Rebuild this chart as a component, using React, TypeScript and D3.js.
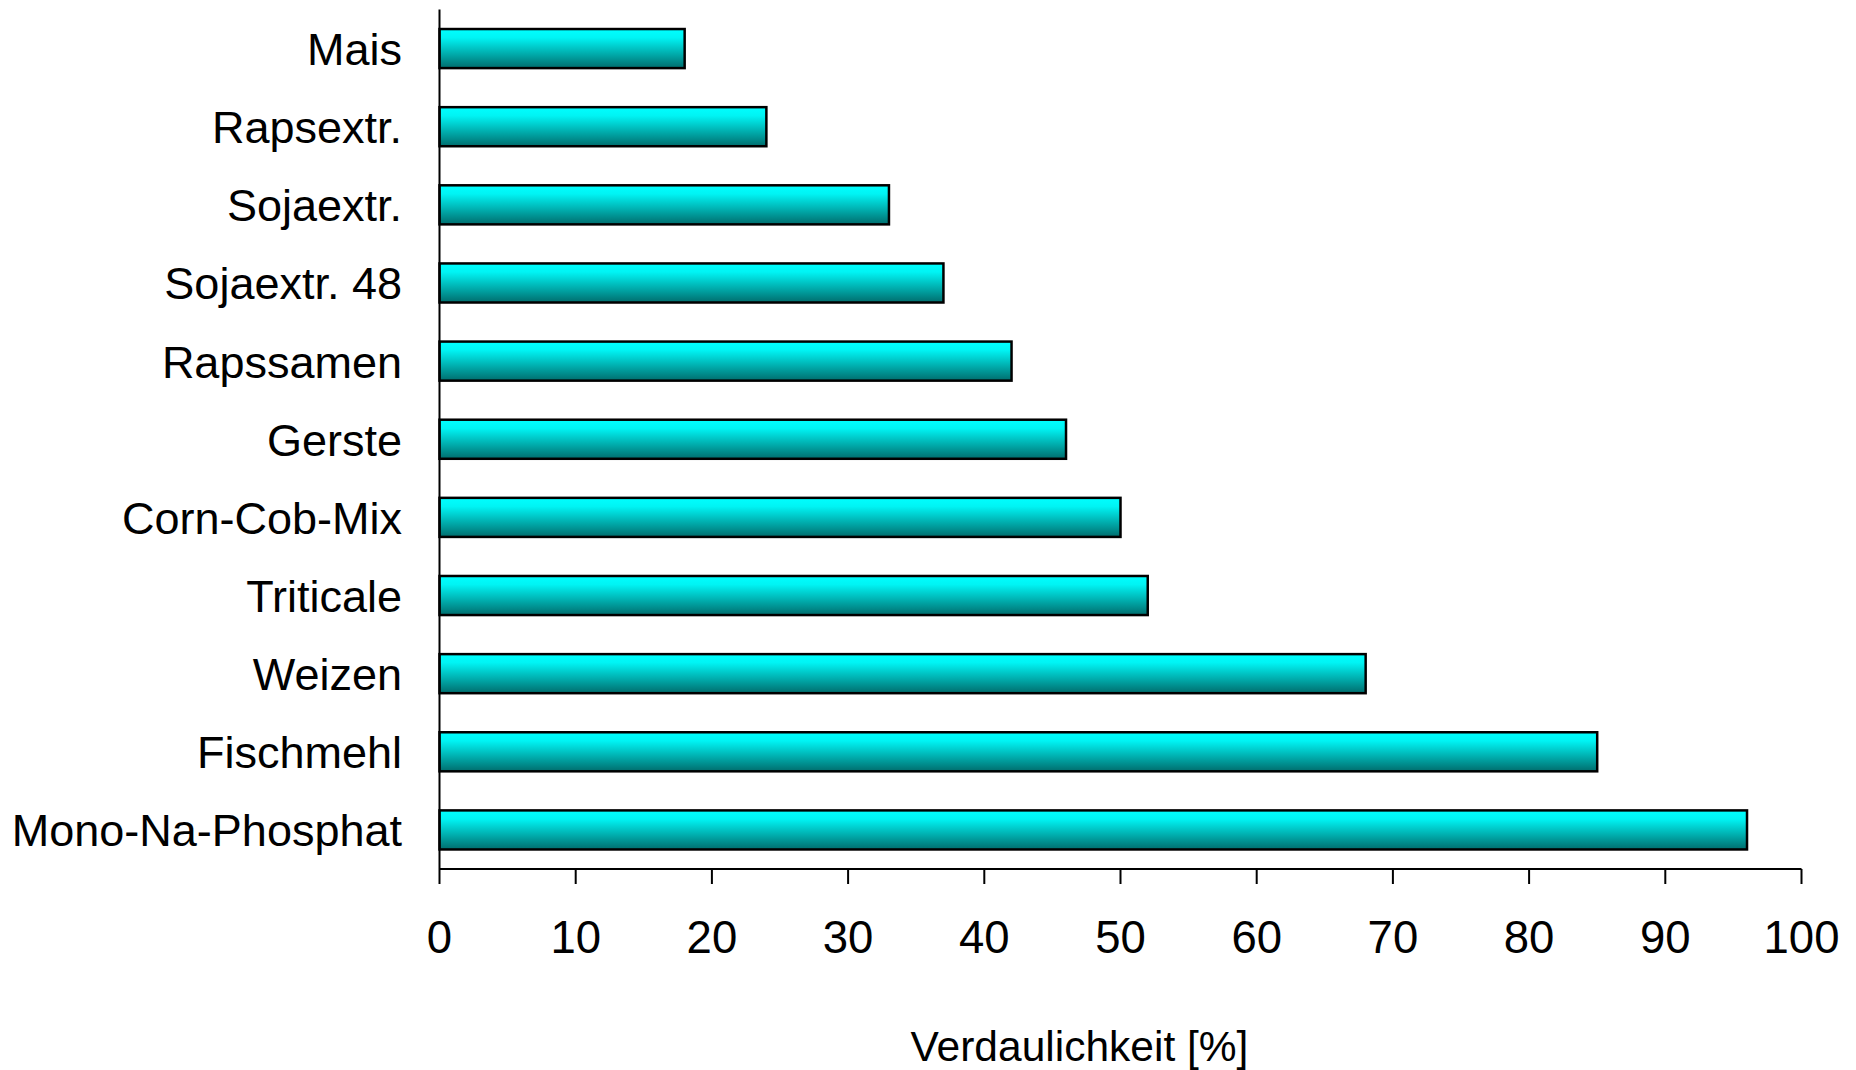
import React from "react";
import * as d3 from "d3";

const categories = [
  "Mais",
  "Rapsextr.",
  "Sojaextr.",
  "Sojaextr. 48",
  "Rapssamen",
  "Gerste",
  "Corn-Cob-Mix",
  "Triticale",
  "Weizen",
  "Fischmehl",
  "Mono-Na-Phosphat",
];
const values = [18, 24, 33, 37, 42, 46, 50, 52, 68, 85, 96];
const xTicks = [0, 10, 20, 30, 40, 50, 60, 70, 80, 90, 100];
const xTitle = "Verdaulichkeit [%]";

export default function App() {
  const W = 1856;
  const H = 1070;
  const left = 439.5;
  const right = 1801.5;
  const top = 9.5;
  const bottom = 869;
  const x = d3.scaleLinear().domain([0, 100]).range([left, right]);
  const y = d3.scaleBand<string>().domain(categories).range([top, bottom]).paddingInner(0.5).paddingOuter(0.25);
  const font = "'Liberation Sans', Arial, sans-serif";
  return (
    <svg width={W} height={H} style={{ position: "absolute", left: 0, top: 0, background: "#fff" }} fontFamily={font}>
      <defs>
        <linearGradient id="barGrad" x1="0" y1="0" x2="0" y2="1">
          <stop offset="0" stopColor="#00ffff" />
          <stop offset="0.22" stopColor="#00f4f4" />
          <stop offset="1" stopColor="#006d6d" />
        </linearGradient>
      </defs>
      {categories.map((c, i) => (
        <g key={c}>
          <rect
            x={x(0)}
            y={y(c)!}
            width={x(values[i]) - x(0)}
            height={y.bandwidth()}
            fill="url(#barGrad)"
            stroke="#000"
            strokeWidth={2.5}
          />
          <text
            x={402}
            y={y(c)! + y.bandwidth() / 2 + 16.5}
            textAnchor="end"
            fontSize={45}
            fill="#000"
          >
            {c}
          </text>
        </g>
      ))}
      <line x1={left} x2={left} y1={top} y2={bottom} stroke="#000" strokeWidth={2} />
      <line x1={left} x2={right} y1={bottom} y2={bottom} stroke="#000" strokeWidth={2} />
      {xTicks.map((t) => (
        <g key={t}>
          <line x1={x(t)} x2={x(t)} y1={bottom} y2={bottom + 15} stroke="#000" strokeWidth={2} />
          <text x={x(t)} y={953} textAnchor="middle" fontSize={45.5} fill="#000">
            {t}
          </text>
        </g>
      ))}
      <text x={1079.5} y={1061} textAnchor="middle" fontSize={42.5} fill="#000">
        {xTitle}
      </text>
    </svg>
  );
}
